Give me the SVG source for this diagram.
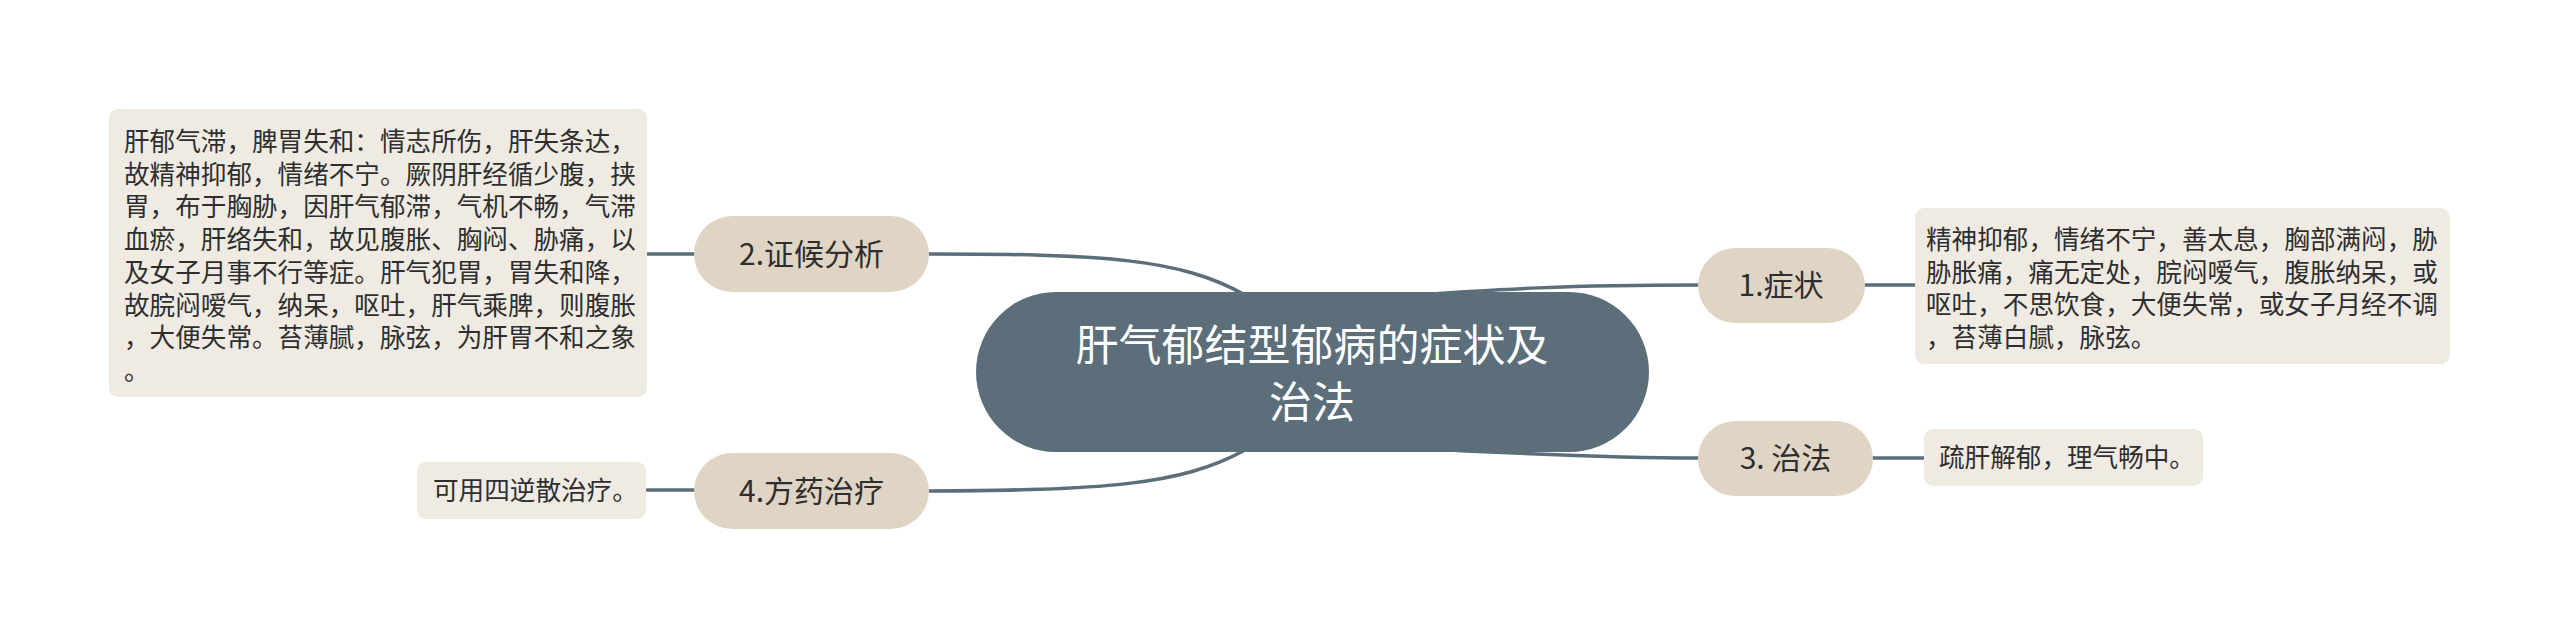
<svg xmlns="http://www.w3.org/2000/svg" width="2560" height="639" viewBox="0 0 2560 639">
<style>
.con{fill:none;stroke:#5b6e7a;stroke-width:3.5;stroke-linecap:round}
.pill{fill:#e0d5c5}
.box{fill:#efebe3}
.t{font-family:"Noto Sans CJK SC","Noto Sans",sans-serif;fill:#2e2e2e}
.pt{font-size:30px;text-anchor:middle}
.bt{font-size:25.6px}
.ct{font-family:"Noto Sans CJK SC","Noto Sans",sans-serif;fill:#ffffff;font-size:43px;text-anchor:middle}
</style>
<rect width="2560" height="639" fill="#ffffff"/>
<g id="connectors">
<path class="con" d="M929 254 C1100 254 1180 258 1245 295"/>
<path class="con" d="M929 491 C1100 490 1180 486 1245 450"/>
<path class="con" d="M1400 296 C1500 289 1570 285 1698 285"/>
<path class="con" d="M1400 448 C1500 452 1590 458 1698 458"/>
<path class="con" d="M1865 285 L1915 285"/>
<path class="con" d="M1873 458 L1924 458"/>
<path class="con" d="M647 254 L694 254"/>
<path class="con" d="M647 490 L694 490"/>
</g>
<g id="center">
<rect x="976" y="292" width="673" height="160" rx="80" fill="#5b6e7a"/>
<text class="ct" x="1312" y="361">肝气郁结型郁病的症状及</text>
<text class="ct" x="1312" y="418">治法</text>
</g>
<g id="n1">
<rect class="pill" x="1698" y="248" width="167" height="75" rx="37.5"/>
<text class="t pt" x="1781" y="296">1.症状</text>
</g>
<g id="n1-detail">
<rect class="box" x="1915" y="208" width="535" height="156" rx="9"/>
<text class="t bt" x="1926" y="249">精神抑郁，情绪不宁，善太息，胸部满闷，胁</text>
<text class="t bt" x="1926" y="281.5">胁胀痛，痛无定处，脘闷嗳气，腹胀纳呆，或</text>
<text class="t bt" x="1926" y="314">呕吐，不思饮食，大便失常，或女子月经不调</text>
<text class="t bt" x="1926" y="346.5">，苔薄白腻，脉弦。</text>
</g>
<g id="n2">
<rect class="pill" x="694" y="216" width="235" height="76" rx="38"/>
<text class="t pt" x="811.5" y="265">2.证候分析</text>
</g>
<g id="n2-detail">
<rect class="box" x="109" y="109" width="538" height="288" rx="9"/>
<text class="t bt" x="124" y="151">肝郁气滞，脾胃失和：情志所伤，肝失条达，</text>
<text class="t bt" x="124" y="183.7">故精神抑郁，情绪不宁。厥阴肝经循少腹，挟</text>
<text class="t bt" x="124" y="216.4">胃，布于胸胁，因肝气郁滞，气机不畅，气滞</text>
<text class="t bt" x="124" y="249.1">血瘀，肝络失和，故见腹胀、胸闷、胁痛，以</text>
<text class="t bt" x="124" y="281.8">及女子月事不行等症。肝气犯胃，胃失和降，</text>
<text class="t bt" x="124" y="314.5">故脘闷嗳气，纳呆，呕吐，肝气乘脾，则腹胀</text>
<text class="t bt" x="124" y="347.2">，大便失常。苔薄腻，脉弦，为肝胃不和之象</text>
<text class="t bt" x="124" y="379.9">。</text>
</g>
<g id="n3">
<rect class="pill" x="1698" y="421" width="175" height="75" rx="37.5"/>
<text class="t pt" x="1785.5" y="469">3. 治法</text>
</g>
<g id="n3-detail">
<rect class="box" x="1924" y="429" width="279" height="57" rx="9"/>
<text class="t bt" x="1939" y="467">疏肝解郁，理气畅中。</text>
</g>
<g id="n4">
<rect class="pill" x="694" y="453" width="235" height="76" rx="38"/>
<text class="t pt" x="811.5" y="502">4.方药治疗</text>
</g>
<g id="n4-detail">
<rect class="box" x="417" y="462" width="229" height="57" rx="9"/>
<text class="t bt" x="433" y="500">可用四逆散治疗。</text>
</g>
</svg>
